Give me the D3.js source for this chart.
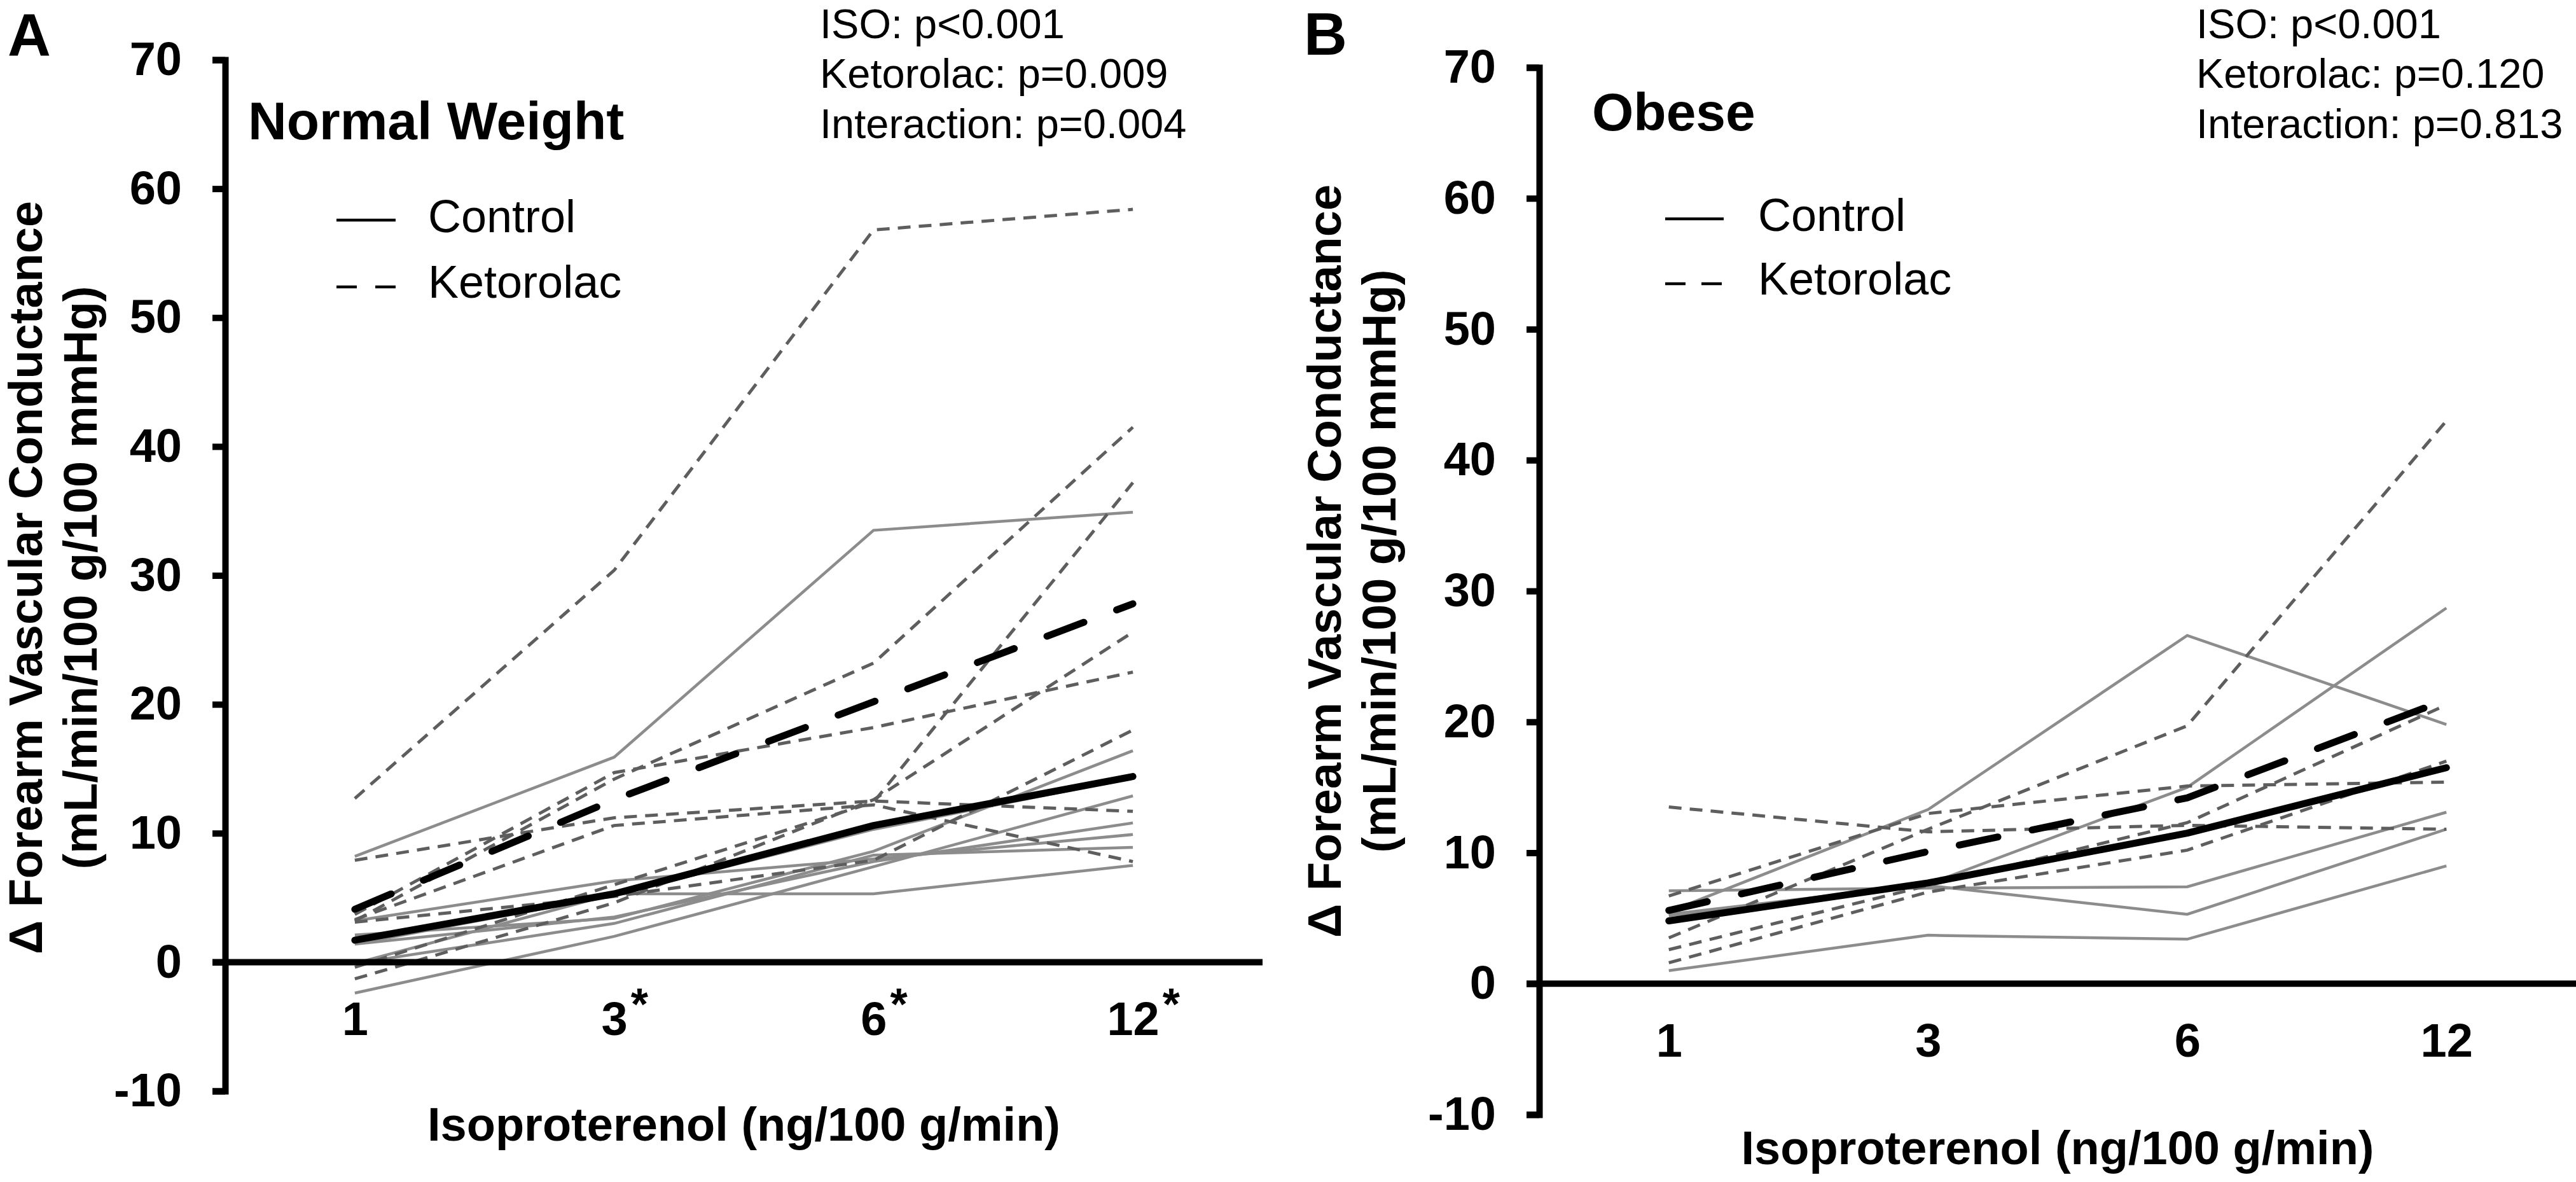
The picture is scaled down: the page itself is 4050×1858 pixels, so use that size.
<!DOCTYPE html>
<html>
<head>
<meta charset="utf-8">
<script src="https://cdn.jsdelivr.net/npm/d3@7"></script>
<style>
  html, body { margin: 0; padding: 0; background: #fff; }
  svg { display: block; font-family: "Liberation Sans", Arial, sans-serif; }
</style>
</head>
<body>
<svg id="chart" width="4050" height="1858"></svg>
<script>
// Isoproterenol dose steps (ng/100 g/min) and y ticks
var doses = ["1", "3", "6", "12"];
var starredDosesA = ["3", "6", "12"];
var starredDosesB = [];
var yTicks = [-10, 0, 10, 20, 30, 40, 50, 60, 70];

// Panel A: normal weight, individual subjects (values at 1, 3, 6, 12)
var normalControl = [
    [8.2, 15.9, 33.5, 34.9],
    [3.2, 6.3, 8.0, 9.9],
    [1.4, 5.2, 10.3, 14.3],
    [2.1, 3.4, 8.6, 16.4],
    [-0.1, 5.3, 5.3, 7.5],
    [-2.4, 2.0, 7.4, 12.9],
    [1.4, 3.5, 7.8, 10.8],
    [-0.1, 3.0, 8.3, 8.9]
];
var normalKetorolac = [
    [12.7, 30.4, 56.8, 58.4],
    [3.2, 14.2, 23.2, 41.5],
    [7.9, 11.2, 12.5, 11.7],
    [3.3, 10.6, 12.2, 7.8],
    [3.7, 14.7, 18.2, 22.5],
    [3.1, 5.1, 7.9, 18.0],
    [-0.4, 6.0, 12.4, 37.2],
    [-1.3, 4.6, 12.6, 25.6]
];
var normalControlMean = [1.7, 5.3, 10.6, 14.4];
var normalKetorolacMean = [4.1, 12.6, 20.2, 27.8];

// Panel B: obese
var obeseControl = [
    [7.1, 7.3, 7.4, 13.1],
    [5.5, 13.3, 26.6, 19.8],
    [5.2, 7.5, 5.3, 11.8],
    [1.0, 3.7, 3.4, 9.0],
    [5.3, 7.6, 15.0, 28.7]
];
var obeseKetorolac = [
    [13.5, 11.6, 12.1, 11.8],
    [3.5, 11.8, 19.7, 43.0],
    [6.7, 13.0, 15.1, 15.4],
    [1.6, 7.0, 10.2, 17.0],
    [2.6, 7.5, 12.3, 21.3]
];
var obeseControlMean = [4.8, 7.7, 11.5, 16.5];
var obeseKetorolacMean = [5.6, 10.1, 14.2, 21.7];

var statsA = ["ISO: p<0.001", "Ketorolac: p=0.009", "Interaction: p=0.004"];
var statsB = ["ISO: p<0.001", "Ketorolac: p=0.120", "Interaction: p=0.813"];

var svg = d3.select("#chart");
svg.append("rect").attr("width", 4050).attr("height", 1858).attr("fill", "#fff");

function drawPanel(p) {
    var g = svg.append("g");

    var x = d3.scalePoint().domain(doses).range([p.left, p.right]).padding(0.5);
    var y = d3.scaleLinear().domain([-10, 70]).range([p.yBottom, p.yTop]);

    var line = d3.line()
        .x(function (d, i) { return x(doses[i]); })
        .y(function (d) { return y(d); });

    // individual subjects
    g.selectAll("path.ctl").data(p.control).enter().append("path")
        .attr("class", "ctl")
        .attr("d", line)
        .attr("fill", "none")
        .attr("stroke", "#8c8c8c")
        .attr("stroke-width", 4.5);

    g.selectAll("path.ket").data(p.ketorolac).enter().append("path")
        .attr("class", "ket")
        .attr("d", line)
        .attr("fill", "none")
        .attr("stroke", "#5e5e5e")
        .attr("stroke-width", 5)
        .attr("stroke-dasharray", "20,13");

    // group means
    g.append("path").datum(p.controlMean)
        .attr("d", line)
        .attr("fill", "none")
        .attr("stroke", "#000")
        .attr("stroke-width", 11)
        .attr("stroke-linejoin", "round")
        .attr("stroke-linecap", "round");

    g.append("path").datum(p.ketorolacMean)
        .attr("d", line)
        .attr("fill", "none")
        .attr("stroke", "#000")
        .attr("stroke-width", 11)
        .attr("stroke-linecap", "round")
        .attr("stroke-dasharray", "62,55");

    // y axis (plain hyphen for negatives, as in the figure)
    var ya = g.append("g")
        .attr("transform", "translate(" + p.left + ",0)")
        .call(d3.axisLeft(y).tickValues(yTicks).tickSize(20).tickSizeOuter(20).tickPadding(48)
            .tickFormat(function (d) { return String(d); }));
    ya.select(".domain").attr("stroke", "#000").attr("stroke-width", 10);
    ya.selectAll(".tick line").attr("stroke", "#000").attr("stroke-width", 10);
    ya.attr("font-family", null).attr("font-size", null);
    ya.selectAll(".tick text")
        .attr("font-family", "Liberation Sans, Arial, sans-serif")
        .attr("font-size", 74).attr("font-weight", "bold").attr("fill", "#000");

    // zero line (x axis)
    g.append("line")
        .attr("x1", p.left - 20).attr("x2", p.right)
        .attr("y1", y(0)).attr("y2", y(0))
        .attr("stroke", "#000").attr("stroke-width", 10);

    // dose labels
    var xa = g.append("g")
        .attr("transform", "translate(0," + y(0) + ")")
        .call(d3.axisBottom(x).tickSize(0).tickPadding(62));
    xa.select(".domain").remove();
    xa.attr("font-family", null).attr("font-size", null);
    xa.selectAll(".tick text")
        .attr("font-family", "Liberation Sans, Arial, sans-serif")
        .attr("font-size", 74).attr("font-weight", "bold").attr("fill", "#000");

    // significance stars as a raised tspan; shift so the digits stay centred
    xa.selectAll(".tick text").each(function (d) {
        if (p.starred.indexOf(d) < 0) return;
        var t = d3.select(this);
        var star = t.append("tspan")
            .attr("dx", 5).attr("dy", -24)
            .attr("font-size", 70)
            .text("*");
        var sw = star.node().getComputedTextLength();
        t.attr("x", (sw + 5) / 2);
    });

    // axis titles
    g.append("text")
        .attr("x", (p.left + p.right) / 2).attr("y", p.xTitleY)
        .attr("text-anchor", "middle")
        .attr("font-size", 74).attr("font-weight", "bold")
        .text("Isoproterenol (ng/100 g/min)");

    var yTitle = ["\u0394 Forearm Vascular Conductance", "(mL/min/100 g/100 mmHg)"];
    yTitle.forEach(function (s, i) {
        g.append("text")
            .attr("transform", "translate(" + p.yTitleX[i] + "," + p.yTitleCenter + ") rotate(-90)")
            .attr("text-anchor", "middle")
            .attr("font-size", 74).attr("font-weight", "bold")
            .text(s);
    });

    // panel letter and group name
    g.append("text").attr("x", p.letterX).attr("y", p.letterY)
        .attr("font-size", 94).attr("font-weight", "bold").text(p.letter);
    g.append("text").attr("x", p.titleX).attr("y", p.titleY)
        .attr("font-size", 84).attr("font-weight", "bold").text(p.title);

    // legend
    var lg = p.legend;
    g.append("line")
        .attr("x1", lg.x1).attr("x2", lg.x2).attr("y1", lg.y1).attr("y2", lg.y1)
        .attr("stroke", "#000").attr("stroke-width", 4.5);
    g.append("line")
        .attr("x1", lg.x1).attr("x2", lg.x2).attr("y1", lg.y2).attr("y2", lg.y2)
        .attr("stroke", "#000").attr("stroke-width", 4.5)
        .attr("stroke-dasharray", lg.dash);
    g.append("text").attr("x", lg.tx).attr("y", lg.y1 + 19)
        .attr("font-size", 72).text("Control");
    g.append("text").attr("x", lg.tx).attr("y", lg.y2 + 17)
        .attr("font-size", 72).text("Ketorolac");

    // statistics
    p.stats.forEach(function (s, i) {
        g.append("text")
            .attr("x", p.statsX).attr("y", [60, 138, 217][i])
            .attr("font-size", 65).text(s);
    });
}

drawPanel({
    left: 354, right: 1985, yTop: 94, yBottom: 1715,
    control: normalControl, ketorolac: normalKetorolac,
    controlMean: normalControlMean, ketorolacMean: normalKetorolacMean,
    starred: starredDosesA,
    xTitleY: 1793, yTitleX: [66, 152], yTitleCenter: 908,
    letter: "A", letterX: 12, letterY: 88,
    title: "Normal Weight", titleX: 390, titleY: 219,
    legend: { x1: 529, x2: 622, y1: 346, y2: 451, tx: 673, dash: "32,29" },
    stats: statsA, statsX: 1289
});

drawPanel({
    left: 2420, right: 4050, yTop: 106, yBottom: 1752,
    control: obeseControl, ketorolac: obeseKetorolac,
    controlMean: obeseControlMean, ketorolacMean: obeseKetorolacMean,
    starred: starredDosesB,
    xTitleY: 1830, yTitleX: [2108, 2194], yTitleCenter: 882,
    letter: "B", letterX: 2050, letterY: 86,
    title: "Obese", titleX: 2503, titleY: 205,
    legend: { x1: 2618, x2: 2710, y1: 344, y2: 446, tx: 2764, dash: "32,25" },
    stats: statsB, statsX: 3453
});
</script>
</body>
</html>
